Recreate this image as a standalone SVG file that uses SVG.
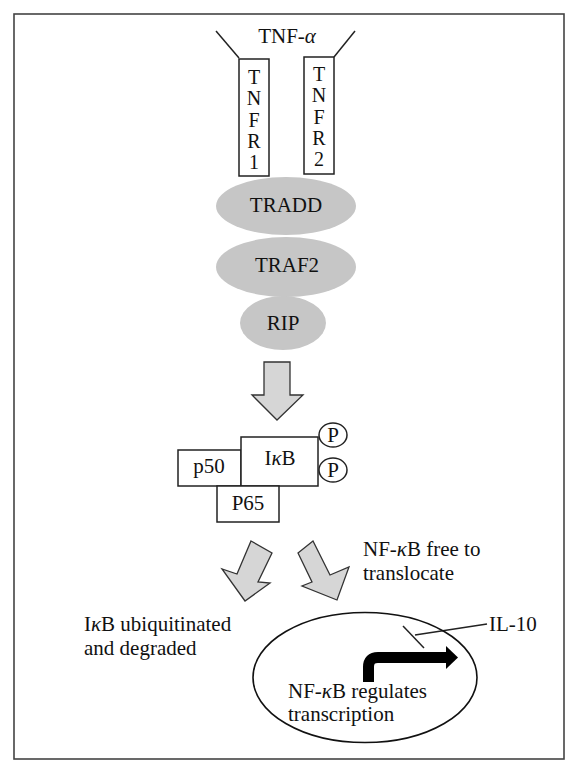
<svg xmlns="http://www.w3.org/2000/svg" width="579" height="774" viewBox="0 0 579 774">
<style>
text{font-family:"Liberation Serif","DejaVu Serif",serif;font-size:21px;fill:#111}
.box{fill:#fff;stroke:#222;stroke-width:1.5}
.prot{fill:#c6c6c6;stroke:none}
.arr{fill:#d6d6d6;stroke:#333;stroke-width:1.3;stroke-linejoin:miter}
.ln{stroke:#222;stroke-width:1.5;fill:none}
.mid{text-anchor:middle}
.vert{writing-mode:vertical-rl;text-orientation:upright;font-size:20px;letter-spacing:-0.7px}
</style>
<rect x="14" y="14" width="550" height="745" fill="#fff" stroke="#444" stroke-width="1.6"/>
<g id="tnf"><text x="287" y="43" class="mid">TNF-<tspan font-style="italic">α</tspan></text></g>
<g id="connectors">
<line class="ln" x1="216" y1="31" x2="239" y2="58"/>
<line class="ln" x1="355" y1="31" x2="334" y2="57"/>
<polygon class="arr" points="264,362 290,362 290,395 303,395 277,420 252,395 264,395"/>
<polygon class="arr" points="251,541 272,553 258,582 270,583 245,601 222,569 237,574"/>
<polygon class="arr" points="298,553 313,541 330,575 349,567 337,600 302,586 312,582"/>
<line class="ln" x1="415" y1="635" x2="487" y2="624"/>
<line class="ln" x1="403" y1="626" x2="424" y2="648"/>
<path d="M368.5,682 V667 Q368.5,657.5 378,657.5 H448" fill="none" stroke="#000" stroke-width="11"/>
<polygon points="446,646 458,657.5 446,669" fill="#000"/>
</g>
<g id="tnfr1"><rect class="box" x="239" y="59" width="30" height="117"/>
<text x="254" y="66" class="vert">TNFR1</text></g>
<g id="tnfr2"><rect class="box" x="304" y="57" width="30" height="117"/>
<text x="319" y="63" class="vert">TNFR2</text></g>
<g id="tradd"><ellipse class="prot" cx="286" cy="206" rx="70" ry="29"/><text x="286" y="212" class="mid">TRADD</text></g>
<g id="traf2"><ellipse class="prot" cx="286" cy="267" rx="70" ry="30"/><text x="287" y="272" class="mid">TRAF2</text></g>
<g id="rip"><ellipse class="prot" cx="283" cy="323" rx="43" ry="27"/><text x="283" y="330" class="mid">RIP</text></g>
<g id="p50"><rect class="box" x="178" y="450" width="63" height="36"/><text x="209" y="473" class="mid">p50</text></g>
<g id="ikb"><rect class="box" x="241" y="437" width="77" height="49"/><text x="280" y="465" class="mid">I<tspan font-style="italic">κ</tspan>B</text></g>
<g id="p65"><rect class="box" x="217" y="486" width="62" height="36"/><text x="248" y="510" class="mid">P65</text></g>
<g id="p1"><ellipse class="box" cx="333" cy="435" rx="14" ry="12"/><text x="333" y="442" class="mid">P</text></g>
<g id="p2"><ellipse class="box" cx="333" cy="470" rx="14" ry="12"/><text x="333" y="477" class="mid">P</text></g>
<g id="free"><text x="363" y="556">NF-<tspan font-style="italic">κ</tspan>B free to</text><text x="363" y="580">translocate</text></g>
<g id="degraded"><text x="84" y="631">I<tspan font-style="italic">κ</tspan>B ubiquitinated</text><text x="84" y="655">and degraded</text></g>
<g id="nucleus"><ellipse cx="365" cy="677.5" rx="112" ry="65" fill="none" stroke="#111" stroke-width="1.6"/>
<text x="288" y="698" font-size="20.5">NF-<tspan font-style="italic">κ</tspan>B regulates</text><text x="288" y="721" font-size="20.5">transcription</text></g>
<g id="il10"><text x="489" y="631">IL-10</text></g>
</svg>
